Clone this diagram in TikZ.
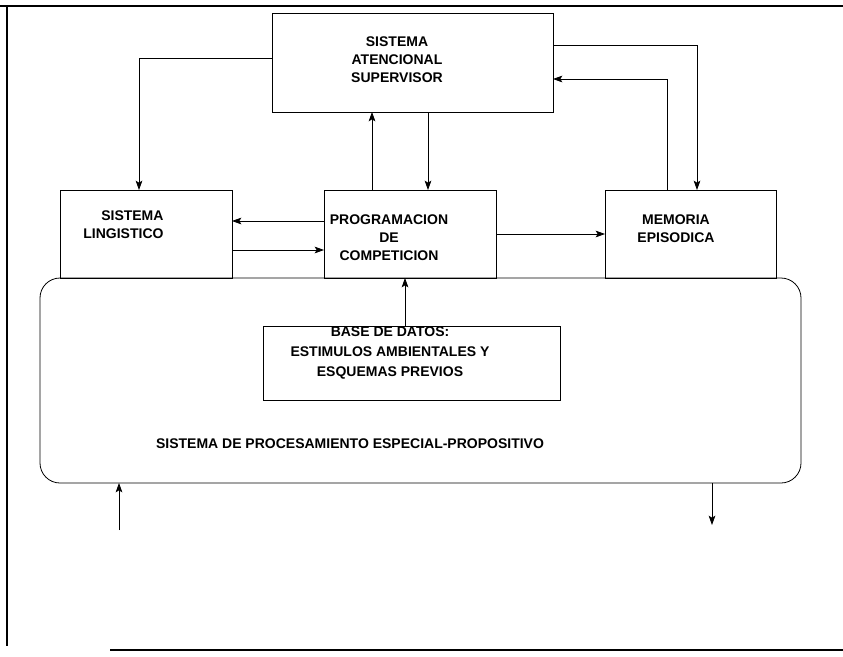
\documentclass[tikz,border=0pt]{standalone}
\usepackage{fontspec}
\setmainfont{Liberation Sans}
\usetikzlibrary{arrows.meta,calc}
\tikzset{every picture/.style={line width=0.75pt}}
\tikzset{
  caja/.style={draw, inner sep=0pt, outer sep=0pt, line width=0.6pt},
  rotulo/.style={font=\fontsize{10.5}{13.5}\selectfont\bfseries, align=center, inner sep=0pt},
  flecha/.style={line width=0.6pt, -{Stealth[length=7pt,width=5pt,inset=1.5pt]}},
  marco/.style={line width=1.4pt},
}

\begin{document}
\begin{tikzpicture}[x=0.75pt,y=0.75pt,yscale=-1,xscale=1]
	\useasboundingbox (0,0) rectangle (843,657);

	%Straight Lines: page frame
	\draw [marco] (0,6) -- (843,6) ;
	\draw [marco, line width=0.9pt] (7,6) -- (7,646) ;
	\draw [marco] (110,650) -- (843,650) ;

	%Shape: Rounded Rectangle
	\node [caja, rounded corners=15pt, minimum width=570.75pt, minimum height=153.75pt] (spep) at (420.5,380.5) {};
	%Shape: Rectangle
	\node [caja, minimum width=210.75pt, minimum height=74.25pt] (sas) at (412.5,62.5) {};
	%Shape: Rectangle
	\node [caja, minimum width=129pt, minimum height=66pt] (sl) at (146,234) {};
	%Shape: Rectangle
	\node [caja, minimum width=129pt, minimum height=66pt] (pc) at (410,234) {};
	%Shape: Rectangle
	\node [caja, minimum width=128.25pt, minimum height=66pt] (me) at (690.5,234) {};
	%Shape: Rectangle
	\node [caja, minimum width=222.75pt, minimum height=55.5pt] (bd) at (411.5,363) {};

	%Straight Lines
	\draw [flecha] ($(sas.west)+(0,-4.5)$) -| ($(sl.north)+(-7,0)$) ;
	\draw [flecha] ($(pc.north)+(-38,0)$) -- ($(sas.south)+(-40.5,0)$) ;
	\draw [flecha] ($(sas.south)+(15.5,0)$) -- ($(pc.north)+(18,0)$) ;
	\draw [flecha] ($(sas.east)+(0,-17.5)$) -| ($(me.north)+(6.5,0)$) ;
	\draw [flecha] ($(me.north)+(-23.5,0)$) |- ($(sas.east)+(0,16.5)$) ;
	\draw [flecha] ($(pc.west)+(0,-13)$) -- ($(sl.east)+(0,-13)$) ;
	\draw [flecha] ($(sl.east)+(0,16)$) -- ($(pc.west)+(0,16)$) ;
	\draw [flecha] (pc.east) -- (me.west) ;
	\draw [flecha] ($(bd.north)+(-6.5,0)$) -- ($(pc.south)+(-5,0)$) ;
	\coordinate (entrada) at (119,530) ;
	\draw [flecha] (entrada) -- (entrada |- spep.south) ;
	\coordinate (salida) at (712,525) ;
	\draw [flecha] (salida |- spep.south) -- (salida) ;

	% Text Node
	\node [rotulo] (sasTxt) at (397,60) {SISTEMA\\ATENCIONAL\\SUPERVISOR};
	% Text Node
	\node [rotulo, align=right, anchor=east] (slTxt) at (164,225) {SISTEMA\\LINGISTICO};
	% Text Node
	\node [rotulo] (pcTxt) at (389,238) {PROGRAMACION\\DE\\COMPETICION};
	% Text Node
	\node [rotulo] (meTxt) at (676,229) {MEMORIA\\EPISODICA};
	% Text Node
	\node [rotulo, font=\fontsize{10.5}{15}\selectfont\bfseries] (bdTxt) at (390,353) {BASE DE DATOS:\\ESTIMULOS AMBIENTALES Y\\ESQUEMAS PREVIOS};
	% Text Node
	\node [rotulo] (spepTxt) at (350,444) {SISTEMA DE PROCESAMIENTO ESPECIAL-PROPOSITIVO};

\end{tikzpicture}
\end{document}
